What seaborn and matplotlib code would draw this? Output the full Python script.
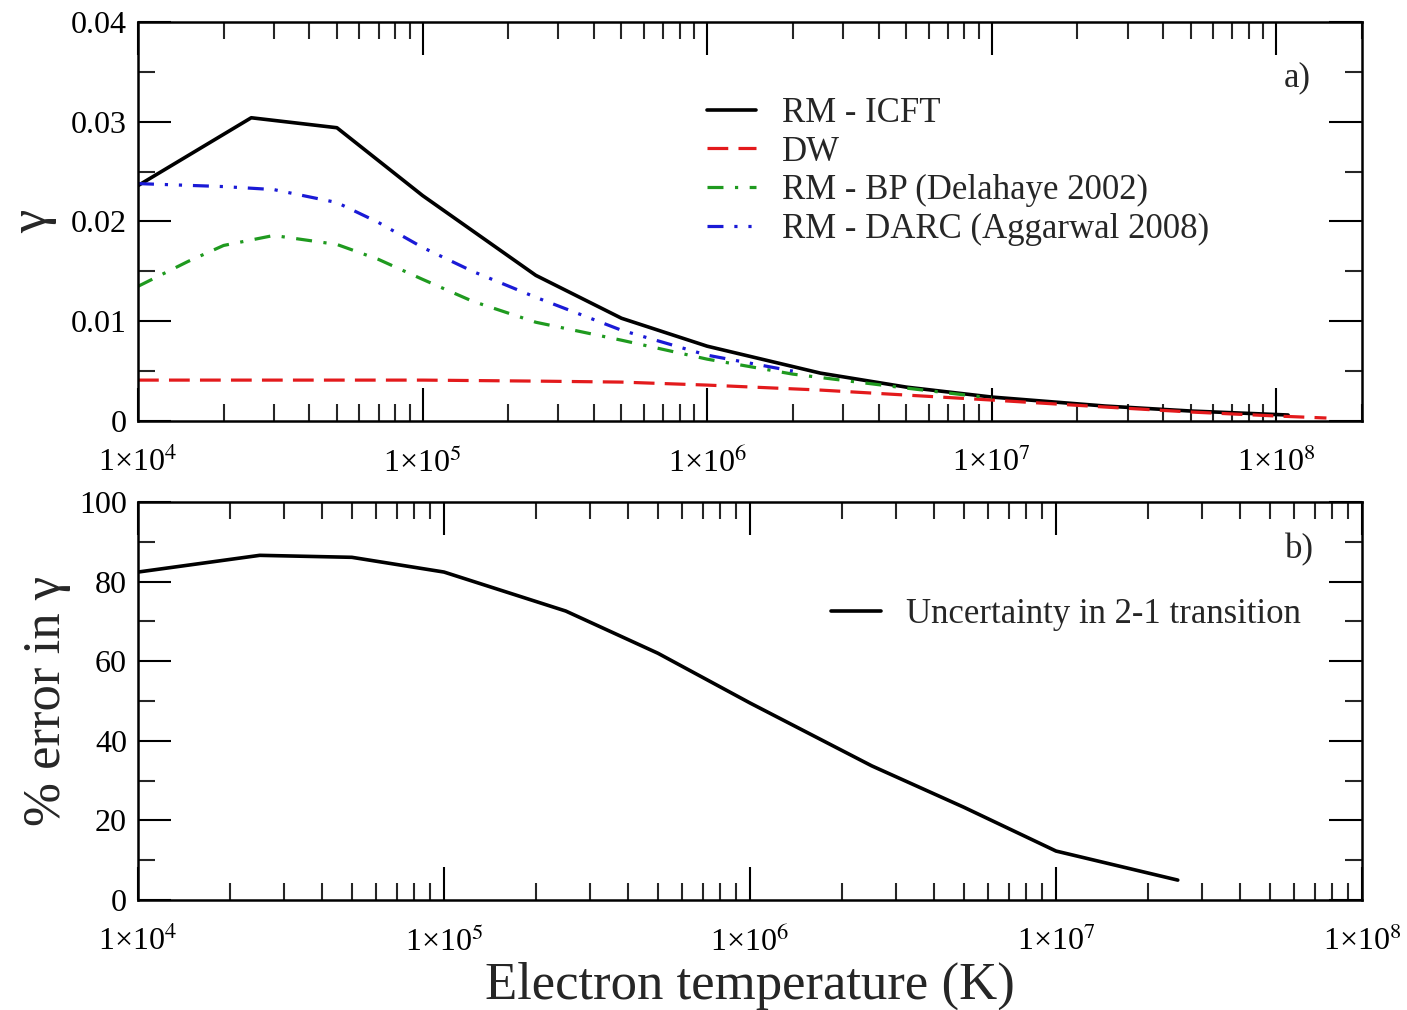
import numpy as np
import pandas as pd
import matplotlib
matplotlib.use("Agg")
import matplotlib.pyplot as plt
from matplotlib.ticker import FuncFormatter, LogLocator, MultipleLocator
import seaborn as sns

# ---- data ----
T_icft = [1e4, 2.5e4, 5e4, 1e5, 2.5e5, 5e5, 1e6, 2.5e6, 5e6, 1e7, 2.5e7, 5e7, 1.1e8]
g_icft = [0.0236, 0.0304, 0.0294, 0.0226, 0.0146, 0.0103, 0.0075, 0.0048, 0.0034, 0.0024, 0.0015, 0.0010, 0.0006]

T_dw = [1e4, 2.5e4, 5e4, 1e5, 2.5e5, 5e5, 1e6, 2.5e6, 5e6, 1e7, 2.5e7, 5e7, 1e8, 1.5e8]
g_dw = [0.0041, 0.0041, 0.0041, 0.0041, 0.0040, 0.0039, 0.0036, 0.0031, 0.0026, 0.0021, 0.0014, 0.0009, 0.0005, 0.0003]

T_bp = [1e4, 1.5e4, 2e4, 3e4, 5e4, 7e4, 1e5, 1.5e5, 2.5e5, 5e5, 1e6, 2e6, 5e6, 1e7]
g_bp = [0.0135, 0.0160, 0.0176, 0.0186, 0.0177, 0.0162, 0.0142, 0.0120, 0.0099, 0.0081, 0.0062, 0.0047, 0.0033, 0.0023]

T_darc = [1e4, 2e4, 3e4, 5e4, 7e4, 1e5, 1.5e5, 2.5e5, 5e5, 1e6, 2e6]
g_darc = [0.0238, 0.0235, 0.0232, 0.0219, 0.0199, 0.0174, 0.0150, 0.0124, 0.0091, 0.0066, 0.0050]

T_err = [1e4, 2.5e4, 5e4, 1e5, 2.5e5, 5e5, 1e6, 2.5e6, 5e6, 1e7, 2.5e7]
err = [82.4, 86.6, 86.1, 82.4, 72.6, 62.0, 49.5, 33.7, 23.3, 12.3, 5.0]

labels_top = ["RM - ICFT", "DW", "RM - BP (Delahaye 2002)", "RM - DARC (Aggarwal 2008)"]
label_bot = "Uncertainty in 2-1 transition"

# ---- style ----
sns.set_theme(style="ticks")
plt.rcParams["font.family"] = ["Liberation Serif", "DejaVu Serif"]
plt.rcParams["mathtext.fontset"] = "stix"

FS_TICK = 23
FS_LEG = 25
FS_LAB = 38

fig = plt.figure(figsize=(14.07, 10.10), dpi=100)
ax1 = fig.add_axes([138/1407, 1-421/1010, 1224/1407, 399/1010])
ax2 = fig.add_axes([138/1407, 1-900/1010, 1224/1407, 398/1010])

lw = 2.3
sns.lineplot(x=T_icft, y=g_icft, ax=ax1, color="black", linewidth=2.6, label=labels_top[0], sort=False)
sns.lineplot(x=T_dw, y=g_dw, ax=ax1, color="#e31a1c", linewidth=lw, label=labels_top[1], sort=False,
             linestyle=(0, (6.5, 3.2)))
sns.lineplot(x=T_bp, y=g_bp, ax=ax1, color="#1f9a1f", linewidth=lw, label=labels_top[2], sort=False,
             linestyle=(0, (5, 3.6, 1, 3.6)))
sns.lineplot(x=T_darc, y=g_darc, ax=ax1, color="#1a1ad6", linewidth=lw, label=labels_top[3], sort=False,
             linestyle=(0, (5, 3.4, 1, 3.4, 1, 3.4)))

sns.lineplot(x=T_err, y=err, ax=ax2, color="black", linewidth=2.6, label=label_bot, sort=False)


def fmt(v, pos):
    e = int(round(np.log10(v)))
    return "1\u00d710$^{%d}$" % e


for ax, xmax in ((ax1, 2.0e8), (ax2, 1e8)):
    ax.set_xscale("log")
    ax.set_xlim(1e4, xmax)
    ax.xaxis.set_major_locator(LogLocator(base=10, numticks=20))
    ax.xaxis.set_minor_locator(LogLocator(base=10, subs=np.arange(2, 10), numticks=20))
    ax.xaxis.set_major_formatter(FuncFormatter(fmt))
    ax.xaxis.set_minor_formatter(FuncFormatter(lambda v, p: ""))
    ax.tick_params(which="major", direction="in", length=24, width=1.5, top=True, right=True,
                   labelsize=FS_TICK, pad=8, colors="black")
    ax.tick_params(axis="x", which="major", pad=19)
    ax.tick_params(which="minor", direction="in", length=12, width=1.5, top=True, right=True)
    for s in ax.spines.values():
        s.set_linewidth(1.8)
        s.set_color("black")
    ax.set_facecolor("white")

ax1.set_ylim(0, 0.04)
ax1.yaxis.set_major_locator(MultipleLocator(0.01))
ax1.yaxis.set_minor_locator(MultipleLocator(0.005))
ax1.yaxis.set_major_formatter(FuncFormatter(lambda v, p: "0" if abs(v) < 1e-12 else "%g" % v))
ax2.set_ylim(0, 100)
ax2.yaxis.set_major_locator(MultipleLocator(20))
ax2.yaxis.set_minor_locator(MultipleLocator(10))

ax1.set_xlabel("")
ax1.set_ylabel("\u03b3", fontsize=FS_LAB, labelpad=10)
ax2.set_ylabel("% error in \u03b3", fontsize=FS_LAB, labelpad=6)
ax2.set_xlabel("Electron temperature (K)", fontsize=FS_LAB, labelpad=3)

ax1.text(0.947, 0.86, "a)", transform=ax1.transAxes, fontsize=FS_LEG, ha="center", va="center")
ax2.text(0.949, 0.879, "b)", transform=ax2.transAxes, fontsize=FS_LEG, ha="center", va="center")

ax1.legend(loc="upper left", bbox_to_anchor=(0.4645, 0.812), frameon=False, fontsize=FS_LEG,
           handlelength=1.42, handletextpad=0.75, labelspacing=0.16, borderpad=0, borderaxespad=0)
ax2.legend(loc="center left", bbox_to_anchor=(0.5665, 0.7165), frameon=False, fontsize=FS_LEG,
           handlelength=1.42, handletextpad=0.72, borderpad=0, borderaxespad=0)

fig.savefig("out.png", dpi=100, facecolor="white")
